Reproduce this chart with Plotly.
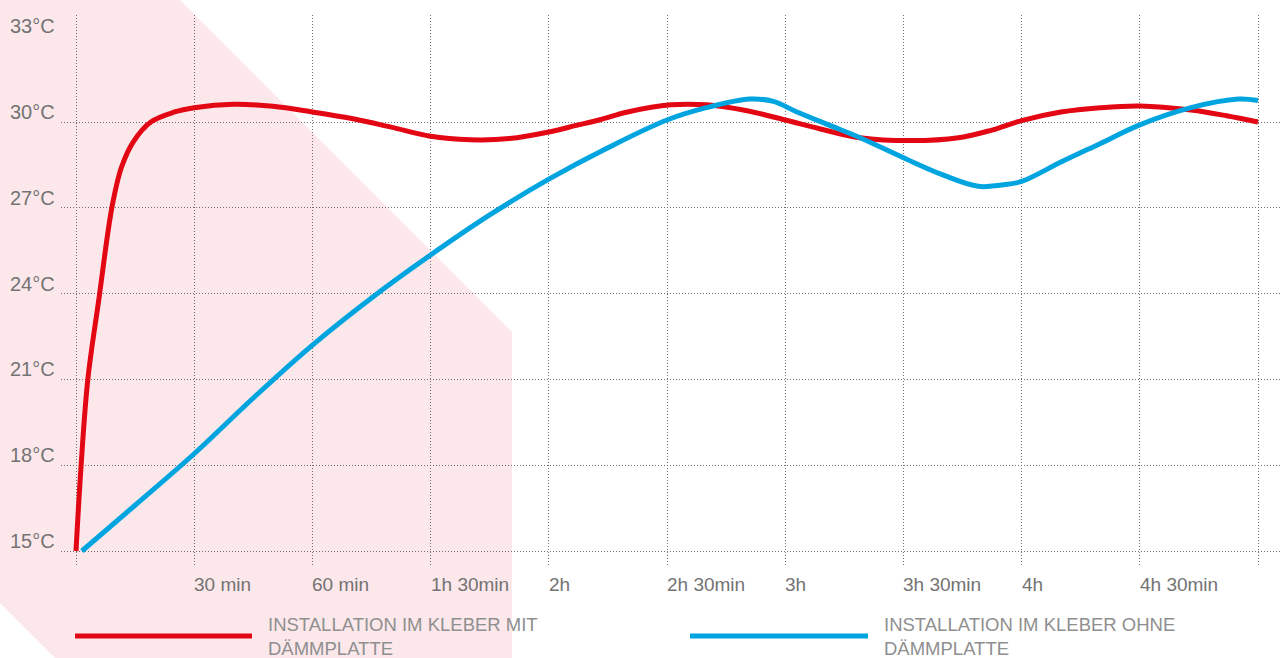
import plotly.graph_objects as go

# ---------------- data ----------------
red_name = "INSTALLATION IM KLEBER MIT<br>DÄMMPLATTE"
blue_name = "INSTALLATION IM KLEBER OHNE<br>DÄMMPLATTE"

red_time = [0, 1.3, 3.0, 5.8, 9.1, 11.5, 14.5, 19, 25, 30, 40, 50, 60, 70, 80, 90, 100, 110,
            120, 127, 133, 140, 151, 160, 170, 180, 190, 199, 212, 224, 232, 240, 250, 260,
            270, 283, 292, 300]
red_temp = [15, 18.0, 21.0, 23.8, 27.0, 28.4, 29.3, 30.0, 30.35, 30.5, 30.62, 30.55, 30.35,
            30.12, 29.82, 29.5, 29.38, 29.42, 29.65, 29.88, 30.08, 30.35, 30.6, 30.6, 30.4,
            30.07, 29.72, 29.45, 29.35, 29.45, 29.7, 30.05, 30.35, 30.5, 30.56, 30.42, 30.22,
            30.0]

blue_time = [1.5, 15, 30, 45, 60, 75, 90, 105, 120, 135, 150, 160, 171, 177, 183, 191, 199,
             210, 220, 229, 235, 240, 250, 260, 270, 283, 295, 300]
blue_temp = [15, 16.6, 18.4, 20.35, 22.2, 23.85, 25.35, 26.75, 28.0, 29.1, 30.07, 30.5, 30.8,
             30.72, 30.35, 29.9, 29.45, 28.75, 28.15, 27.75, 27.8, 27.92, 28.6, 29.25, 29.9,
             30.5, 30.8, 30.75]

x_tick_vals = [0, 30, 60, 90, 120, 150, 180, 210, 240, 270, 300]
x_tick_labels = ["", "30 min", "60 min", "1h 30min", "2h", "2h 30min", "3h", "3h 30min",
                 "4h", "4h 30min", ""]
y_grid_vals = [15, 18, 21, 24, 27, 30]
y_label_vals = [33, 30, 27, 24, 21, 18, 15]
y_label_texts = ["33°C", "30°C", "27°C", "24°C", "21°C", "18°C", "15°C"]

# ---------------- layout geometry (pixels) ----------------
W, H = 1282, 658
ML, MR, MT, MB = 61, 0, 15, 93
PW = W - ML - MR
PH = H - MT - MB


def px(x):
    return (x - ML) / PW


def py(y):
    return (H - MB - y) / PH


RED = "#e30613"
BLUE = "#00a5e0"
PINK = "#fce8eb"
FONT = "Liberation Sans, Arial, sans-serif"

fig = go.Figure()
fig.add_trace(go.Scatter(x=red_time, y=red_temp, mode="lines",
                         line=dict(color=RED, width=5, shape="spline", smoothing=1.0),
                         name=red_name, showlegend=False, hoverinfo="skip"))
fig.add_trace(go.Scatter(x=blue_time, y=blue_temp, mode="lines",
                         line=dict(color=BLUE, width=5, shape="spline", smoothing=1.0),
                         name=blue_name, showlegend=False, hoverinfo="skip"))

# pink background decoration
poly = [(0, 0), (180, 0), (512, 332), (512, 658), (55, 658), (0, 603)]
path = "M " + " L ".join(f"{px(a):.5f},{py(b):.5f}" for a, b in poly) + " Z"
shapes = [dict(type="path", xref="paper", yref="paper", path=path,
               fillcolor=PINK, line=dict(width=0), layer="below")]

# legend lines
for (x0, x1, col) in [(75, 252, RED), (690, 868, BLUE)]:
    shapes.append(dict(type="line", xref="paper", yref="paper",
                       x0=px(x0), x1=px(x1), y0=py(636), y1=py(636),
                       line=dict(color=col, width=5), layer="above"))

annotations = []
# y labels
for v, t in zip(y_label_vals, y_label_texts):
    annotations.append(dict(x=px(8), xref="paper", y=v, yref="y", text=t,
                            showarrow=False, xanchor="left", yanchor="middle", yshift=10,
                            font=dict(family=FONT, size=20, color="#737373")))
# x labels
for v, t in zip(x_tick_vals, x_tick_labels):
    if t:
        annotations.append(dict(x=v, xref="x", y=py(584), yref="paper", text=t,
                                showarrow=False, xanchor="left", yanchor="middle", xshift=-2,
                                font=dict(family=FONT, size=19, color="#737373")))
# legend texts
for xpos, t in [(266, red_name), (882, blue_name)]:
    annotations.append(dict(x=px(xpos), xref="paper", y=py(612), yref="paper", text=t,
                            showarrow=False, xanchor="left", yanchor="top", align="left",
                            font=dict(family=FONT, size=18.5, color="#8f8f8f")))

grid_style = dict(showgrid=True, gridcolor="#6e6e6e", gridwidth=1, griddash="1px,2px",
                  zeroline=False, showline=False, showticklabels=False, ticks="")

x_left = -(76 - ML) / 3.94
x_right = 300 + (W - MR - 1258) / 3.94
y_per = (551 - 122) / 15.0
y_top = 30 + (122 - MT) / y_per
y_bot = 15 - (H - MB - 551) / y_per

fig.update_layout(
    width=W, height=H,
    margin=dict(l=ML, r=MR, t=MT, b=MB, pad=0),
    paper_bgcolor="white", plot_bgcolor="rgba(0,0,0,0)",
    xaxis=dict(range=[x_left, x_right], tickvals=x_tick_vals, **grid_style),
    yaxis=dict(range=[y_bot, y_top], tickvals=y_grid_vals, **grid_style),
    shapes=shapes, annotations=annotations,
    showlegend=False,
)

fig.write_html("out.html", config={"displayModeBar": False},
               post_script="document.body.style.margin='0';document.body.style.overflow='hidden';")
